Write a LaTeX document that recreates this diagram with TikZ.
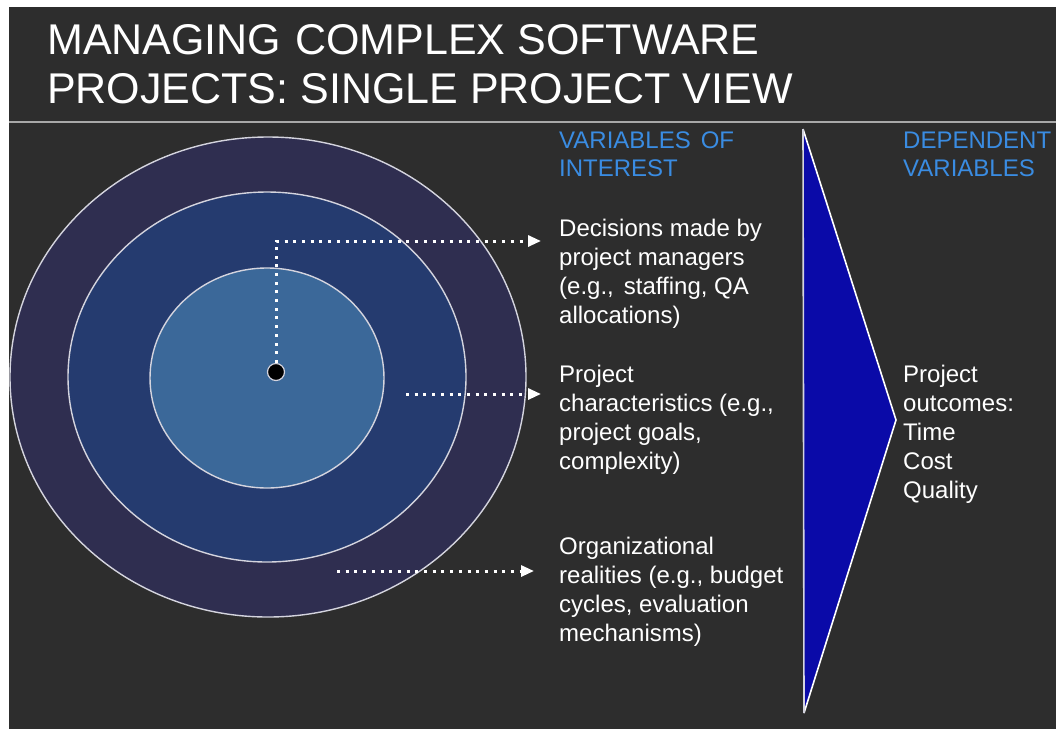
\documentclass[tikz,border=0pt]{standalone}
\usepackage{fontspec}
\setmainfont{Liberation Sans}
\usetikzlibrary{arrows.meta}
\definecolor{bg}{HTML}{2D2D2D}
\definecolor{ringouter}{HTML}{2F2E50}
\definecolor{ringmid}{HTML}{253B6F}
\definecolor{ringinner}{HTML}{3B6899}
\definecolor{ringline}{HTML}{D4D4DE}
\definecolor{chevblue}{HTML}{0A0AA8}
\definecolor{headblue}{HTML}{3A8CE2}
\definecolor{sepgray}{HTML}{A8A8A8}
\tikzset{
  ring/.style={draw=ringline, line width=1.4pt},
  bodytext/.style={anchor=north west, inner sep=0pt, align=left, text=white,
    font=\fontsize{24pt}{29pt}\selectfont},
  headtext/.style={anchor=north west, inner sep=0pt, align=left, text=headblue,
    font=\fontsize{24pt}{28pt}\selectfont},
  titletext/.style={anchor=north west, inner sep=0pt, align=left, text=white,
    font=\fontsize{43pt}{49pt}\selectfont},
  dotarrow/.style={draw=white, line width=3pt, dash pattern=on 3pt off 5.7pt,
    -{Triangle[length=13pt,width=11pt,fill=white]}},
}
\begin{document}
\begin{tikzpicture}[x=1pt,y=-1pt]
\useasboundingbox (0,0) rectangle (1056,729);
\fill[white] (0,0) rectangle (1056,729);
\fill[bg] (9,7) rectangle (1056,729);
% title
\node[titletext] (title) at (47,19.5) {\strut MANAGING\hspace{14pt}COMPLEX SOFTWARE\\PROJECTS: SINGLE PROJECT VIEW};
\draw[sepgray, line width=2.2pt] (9,122) -- (1056,122);
% rings
\path[ring, fill=ringouter] (268,377) ellipse [x radius=258, y radius=240];
\path[ring, fill=ringmid] (267,377) ellipse [x radius=199, y radius=185];
\path[ring, fill=ringinner] (267,378) ellipse [x radius=117, y radius=110];
\node[circle, fill=black, draw=ringline, line width=1.2pt, minimum size=17pt, inner sep=0pt] (dot) at (276,372) {};
% chevron
\fill[chevblue] (803,129) -- (896,420) -- (804,713) -- cycle;
\draw[white, line width=1.6pt] (803,129) -- (896,420) -- (804,713);
\draw[ringline, line width=1.6pt] (803,129) -- (804,713);
% headings
\node[headtext] (h1) at (559,129) {\strut VARIABLES\hspace{10pt}OF\\INTEREST};
\node[headtext] (h2) at (903,129) {\strut DEPENDENT\\VARIABLES};
% body texts
\node[bodytext] (t1) at (559,215.7) {\strut Decisions made by\\project managers\\(e.g.,\hspace{10pt}staffing, QA\\allocations)};
\node[bodytext] (t2) at (559,361.7) {\strut Project\\characteristics (e.g.,\\project goals,\\complexity)};
\node[bodytext] (t3) at (559,533.7) {\strut Organizational\\realities (e.g., budget\\cycles, evaluation\\mechanisms)};
\node[bodytext] (t4) at (903,361.7) {\strut Project\\outcomes:\\Time\\Cost\\Quality};
% connectors
\coordinate (a1) at (541,241);
\coordinate (s2) at (406,394);
\coordinate (a2) at (541,394);
\coordinate (s3) at (337,571);
\coordinate (a3) at (534,571);
\draw[dotarrow] (dot.north) |- (a1);
\draw[dotarrow] (s2) -- (a2);
\draw[dotarrow] (s3) -- (a3);
\end{tikzpicture}
\end{document}
